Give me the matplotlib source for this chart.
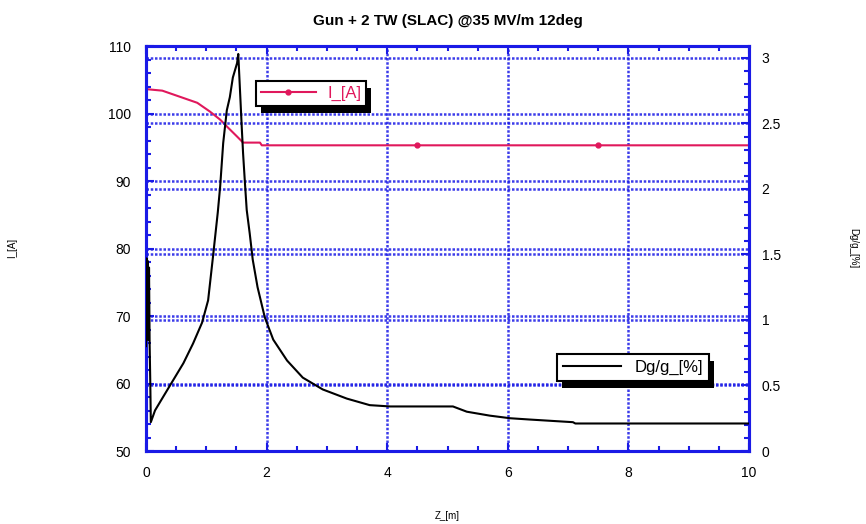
import matplotlib
matplotlib.use("Agg")
import matplotlib.pyplot as plt
from matplotlib.ticker import MultipleLocator, FormatStrFormatter
from matplotlib.patches import Rectangle
from matplotlib.transforms import IdentityTransform

plt.rcParams['font.family'] = ['Liberation Sans', 'DejaVu Sans']

title = "Gun + 2 TW (SLAC) @35 MV/m 12deg"

z_I = [0.0, 0.03, 0.27, 0.56, 0.85, 1.06, 1.23, 1.34, 1.51, 1.61, 1.89, 1.92, 4.5, 7.5, 10.0]
I_A = [103.6, 103.6, 103.4, 102.5, 101.6, 100.3, 99.1, 98.1, 96.6, 95.7, 95.7, 95.3, 95.3, 95.3, 95.3]

z_D = [0.0, 0.01, 0.02, 0.03, 0.04, 0.05, 0.06, 0.07, 0.08, 0.15, 0.28, 0.45, 0.62, 0.78,
       0.93, 1.03, 1.11, 1.19, 1.23, 1.28, 1.34, 1.39, 1.44, 1.51, 1.53, 1.59, 1.61,
       1.64, 1.67, 1.72, 1.77, 1.85, 1.97, 2.11, 2.34, 2.6, 2.93, 3.33, 3.71, 4.05,
       5.09, 5.32, 5.7, 6.04, 6.37, 7.08, 7.12, 10.0]
Dg = [0.8, 1.47, 0.85, 1.45, 0.85, 1.4, 0.82, 0.55, 0.22, 0.31, 0.41, 0.54, 0.67, 0.82,
      0.98, 1.15, 1.48, 1.82, 2.02, 2.35, 2.60, 2.70, 2.85, 2.96, 3.03, 2.45, 2.27,
      2.05, 1.84, 1.66, 1.46, 1.25, 1.02, 0.85, 0.69, 0.56, 0.47, 0.40, 0.35, 0.34,
      0.34, 0.30, 0.27, 0.25, 0.24, 0.22, 0.21, 0.21]

blue = '#1a1ae6'
pink = '#e0185c'

fig = plt.figure(figsize=(8.66, 5.24), dpi=100)
ax = fig.add_axes([0.1686, 0.1393, 0.6963, 0.7727])
ax2 = ax.twinx()

ax.set_xlim(0, 10)
ax.set_ylim(50, 110)
ax2.set_ylim(0, 3.09)

ax.xaxis.set_major_locator(MultipleLocator(2))
ax.xaxis.set_minor_locator(MultipleLocator(0.5))
ax.yaxis.set_major_locator(MultipleLocator(10))
ax.yaxis.set_minor_locator(MultipleLocator(2))
ax2.yaxis.set_major_locator(MultipleLocator(0.5))
ax2.yaxis.set_minor_locator(MultipleLocator(0.1))
ax2.yaxis.set_major_formatter(FormatStrFormatter('%g'))

gridkw = dict(color=blue, linestyle=(0, (1, 0.7)), linewidth=1.8, alpha=0.85)
ax.grid(True, which='major', **gridkw)
ax2.grid(True, which='major', axis='y', **gridkw)
ax.set_axisbelow(True)

l1, = ax.plot(z_I, I_A, color=pink, lw=1.5, marker='o', markersize=3.5,
              markevery=[12, 13], label='I_[A]', zorder=5)
l2, = ax2.plot(z_D, Dg, color='black', lw=1.5, label='Dg/g_[%]', zorder=5)

for a in (ax, ax2):
    for s in a.spines.values():
        s.set_color(blue)
        s.set_linewidth(2.2)
    a.tick_params(which='both', direction='in', color=blue, labelsize=10, width=1.5, pad=11)
    a.tick_params(which='major', length=6)
    a.tick_params(which='minor', length=3.5)
ax.tick_params(which='both', top=True, right=False)
ax2.tick_params(which='both', left=False, right=True, pad=9)

ax.set_title(title, fontsize=11, fontweight='bold', pad=15)
ax.set_xlabel('Z_[m]', fontsize=7, labelpad=22)
fig.text(12 / 866, 1 - 248 / 524, 'I_[A]', fontsize=7, rotation=90, ha='center', va='center')
fig.text(853 / 866, 1 - 248 / 524, 'Dg/g_[%]', fontsize=7, rotation=270, ha='center', va='center')

leg1 = ax2.legend(handles=[l1], loc='upper left', bbox_to_anchor=(0.168, 0.935),
                  fancybox=False, shadow=False, edgecolor='black', fontsize=12,
                  handlelength=3.3, borderpad=0.3, framealpha=1, labelcolor=pink,
                  handletextpad=0.7)
leg1.get_frame().set_linewidth(1.5)
ax2.add_artist(leg1)
leg2 = ax2.legend(handles=[l2], loc='upper left', bbox_to_anchor=(0.668, 0.26),
                  fancybox=False, shadow=False, edgecolor='black', fontsize=12,
                  handlelength=3.5, borderpad=0.35, framealpha=1, handletextpad=0.8)
leg2.get_frame().set_linewidth(1.5)
for leg in (leg1, leg2):
    leg.set_zorder(10)

fig.canvas.draw()
for leg in (leg1, leg2):
    bb = leg.get_frame().get_window_extent()
    sh = Rectangle((bb.x0 + 5, bb.y0 - 7), bb.width, bb.height,
                   transform=IdentityTransform(), facecolor='black',
                   edgecolor='none', zorder=9)
    ax2.add_patch(sh)

fig.savefig('out.png', dpi=100)
